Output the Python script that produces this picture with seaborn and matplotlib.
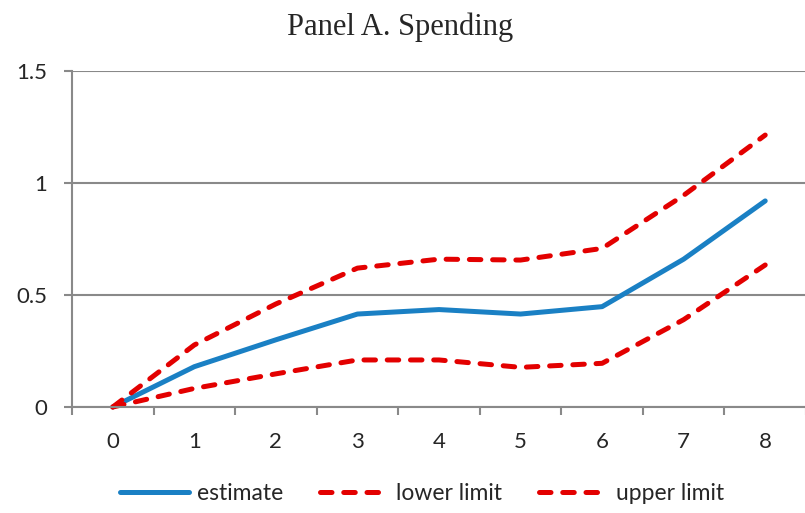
import matplotlib

matplotlib.use("Agg")
import matplotlib.pyplot as plt
import numpy as np
import pandas as pd
import seaborn as sns

periods = [0, 1, 2, 3, 4, 5, 6, 7, 8]
estimate = [0.0, 0.18, 0.30, 0.415, 0.435, 0.415, 0.448, 0.66, 0.92]
lower_limit = [0.0, 0.083, 0.148, 0.21, 0.21, 0.177, 0.195, 0.39, 0.634]
upper_limit = [0.0, 0.277, 0.46, 0.62, 0.66, 0.656, 0.708, 0.945, 1.214]
y_ticks = [0, 0.5, 1, 1.5]
y_tick_labels = ["0", "0.5", "1", "1.5"]

sns.set_style("white")
plt.rcParams["font.family"] = ["Lato", "DejaVu Sans"]

GRAY = "#898989"
BLUE = "#1a80c4"
RED = "#e30000"
DASH = (0, (2.3, 2.35))

df = pd.DataFrame({"period": periods, "estimate": estimate,
                   "lower": lower_limit, "upper": upper_limit})

fig = plt.figure(figsize=(8.05, 5.13), dpi=100)
ax = fig.add_axes([72 / 805, 1 - 407 / 513, 734 / 805, 336 / 513])

sns.lineplot(data=df, x="period", y="estimate", ax=ax, color=BLUE,
             linewidth=3.6, label="estimate", solid_capstyle="round")
sns.lineplot(data=df, x="period", y="lower", ax=ax, color=RED, linewidth=3.6,
             linestyle=DASH, dash_capstyle="round", label="lower limit")
sns.lineplot(data=df, x="period", y="upper", ax=ax, color=RED, linewidth=3.6,
             linestyle=DASH, dash_capstyle="round", label="upper limit")

ax.set_xlim(-0.5, 8.5)
ax.set_ylim(0, 1.5)
ax.set_xticks(periods)
ax.set_xticklabels([str(p) for p in periods])
ax.set_xticks(np.arange(-0.5, 8.6, 1.0), minor=True)
ax.set_yticks(y_ticks)
ax.set_yticklabels(y_tick_labels)
ax.tick_params(axis="x", which="major", length=0, pad=18, labelsize=16)
ax.tick_params(axis="x", which="minor", length=6, width=1.5, color=GRAY, direction="out")
ax.tick_params(axis="y", length=6, width=1.5, color=GRAY, pad=12, labelsize=16,
               direction="out", left=True)
ax.tick_params(axis="x", bottom=True, which="both")
ax.set_xlabel("")
ax.set_ylabel("")

ax.yaxis.grid(True, color=GRAY, linewidth=1.5)
ax.set_axisbelow(True)
for side in ["top", "right"]:
    ax.spines[side].set_visible(False)
for side in ["left", "bottom"]:
    ax.spines[side].set_color(GRAY)
    ax.spines[side].set_linewidth(1.5)
for line in ax.lines:
    line.set_clip_on(False)

ax.legend(loc="center", bbox_to_anchor=(422 / 805, 1 - 494 / 513),
          bbox_transform=fig.transFigure, ncol=3, frameon=False,
          fontsize=16.5, handlelength=3.0, handletextpad=0.35, columnspacing=1.6)

fig.text(0.497, 1 - 27 / 513, "Panel A. Spending", ha="center", va="center",
         fontsize=22, family=["Liberation Serif", "DejaVu Serif"])

fig.savefig("out.png", dpi=100)
plt.close(fig)
